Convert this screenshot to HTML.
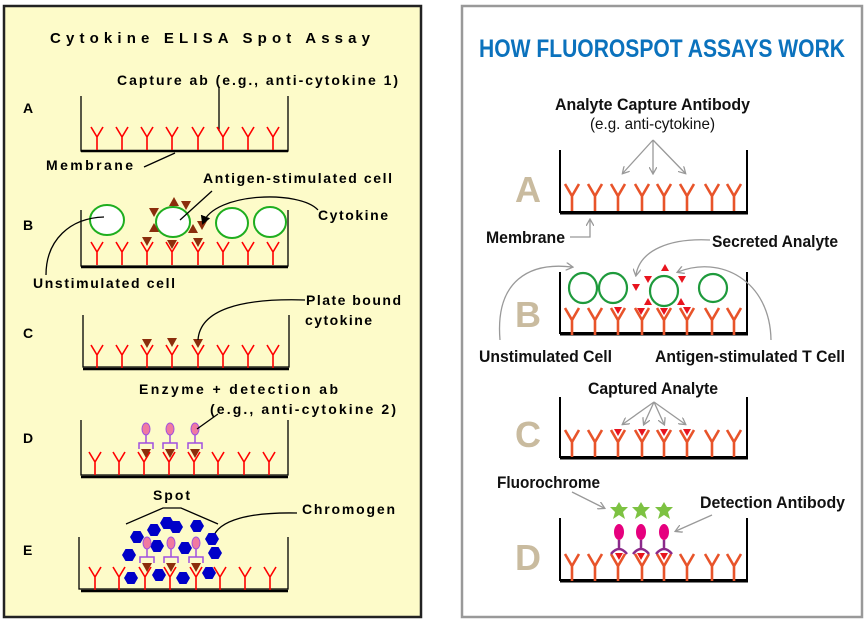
<!DOCTYPE html>
<html><head><meta charset="utf-8"><style>
html,body{margin:0;padding:0;background:#fff;width:865px;height:622px;overflow:hidden}
svg{display:block}
.l{font-family:"Liberation Sans",sans-serif;font-size:14px;fill:#000;font-weight:bold}
.r{font-family:"Liberation Sans",sans-serif;font-size:17px;fill:#111;font-weight:bold}
.big{font-family:"Liberation Sans",sans-serif;font-weight:bold;font-size:36px;fill:#c9bb9f}
</style></head><body>
<svg width="865" height="622" viewBox="0 0 865 622" xmlns="http://www.w3.org/2000/svg">
<defs>
<g id="ly"><path d="M0,23V10M-6,0L0,10L6,0" stroke="#f00" stroke-width="1.6" fill="none"/></g>
<g id="ry"><path d="M0,27V12M-7,0L0,12L7,0" stroke="#e8542a" stroke-width="2.6" fill="none"/></g>
<path id="tri" d="M-5,-4H5L0,5Z" fill="#8b2d0c"/>
<path id="rtri" d="M-4,-3H4L0,4Z" fill="#e8141e"/>
<polygon id="hex" points="-7,0 -3.5,-6 3.5,-6 7,0 3.5,6 -3.5,6" fill="#0000c8"/>
<g id="det"><ellipse cx="0" cy="0" rx="4" ry="6" fill="#f07aa0" stroke="#a050e0" stroke-width="1"/><path d="M0,6V14M-7,20V14H7V20" stroke="#a050e0" stroke-width="1.5" fill="none"/></g>
<g id="rdet"><path d="M-9,-7L-3,-7L0,-12L3,-7L9,-7L4,-2L6,5L0,1L-6,5L-4,-2Z" fill="#7dc242"/><ellipse cx="0" cy="18" rx="5" ry="8" fill="#e6007e"/><path d="M0,26V36M-8,40Q0,30 8,40" stroke="#8b2a8b" stroke-width="2.5" fill="none"/></g>
<marker id="ga" markerWidth="8" markerHeight="8" refX="6" refY="4" orient="auto" markerUnits="userSpaceOnUse"><path d="M0,0L7,4L0,8" fill="none" stroke="#999" stroke-width="1.3"/></marker>
<marker id="ba" markerWidth="10" markerHeight="10" refX="7" refY="5" orient="auto" markerUnits="userSpaceOnUse"><path d="M0,0L9,5L0,10Z" fill="#000"/></marker>
</defs>

<!-- LEFT PANEL -->
<rect x="4" y="6" width="417" height="611" fill="#fdfbc9" stroke="#222" stroke-width="2.5"/>
<text class="l" x="50" y="43" textLength="320" lengthAdjust="spacing" style="font-size:15px">Cytokine ELISA Spot Assay</text>

<text class="l" x="23" y="113">A</text>
<text class="l" x="117" y="85" textLength="281" lengthAdjust="spacing">Capture ab (e.g., anti-cytokine 1)</text>
<path d="M219,88V131" stroke="#000" stroke-width="1.3"/>
<path d="M81,96V151H288V96" stroke="#000" stroke-width="1.3" fill="none"/><path d="M81,151H288" stroke="#000" stroke-width="2.5"/>
<g transform="translate(0,127)"><use href="#ly" x="97"/><use href="#ly" x="122"/><use href="#ly" x="147"/><use href="#ly" x="172"/><use href="#ly" x="198"/><use href="#ly" x="223"/><use href="#ly" x="248"/><use href="#ly" x="273"/></g>
<text class="l" x="46" y="170" textLength="87" lengthAdjust="spacing">Membrane</text>
<path d="M144,167L175,153" stroke="#000" stroke-width="1.3"/>

<text class="l" x="23" y="230">B</text>
<text class="l" x="203" y="183" textLength="189" lengthAdjust="spacing">Antigen-stimulated cell</text>
<path d="M81,210V266H288V210" stroke="#000" stroke-width="1.3" fill="none"/><path d="M81,267H288" stroke="#000" stroke-width="2.5"/>
<g transform="translate(0,242)"><use href="#ly" x="97"/><use href="#ly" x="122"/><use href="#ly" x="147"/><use href="#ly" x="172"/><use href="#ly" x="198"/><use href="#ly" x="223"/><use href="#ly" x="248"/><use href="#ly" x="273"/></g>
<ellipse cx="107" cy="220" rx="17" ry="15" fill="#fff" stroke="#1fae1f" stroke-width="2"/>
<ellipse cx="173" cy="222" rx="17" ry="15" fill="#fff" stroke="#1fae1f" stroke-width="2"/>
<ellipse cx="232" cy="223" rx="16" ry="15" fill="#fff" stroke="#1fae1f" stroke-width="2"/>
<ellipse cx="270" cy="222" rx="16" ry="15" fill="#fff" stroke="#1fae1f" stroke-width="2"/>
<g><use href="#tri" x="154" y="212"/><use href="#tri" x="154" y="228" transform="rotate(180 154 228)"/><use href="#tri" x="174" y="202" transform="rotate(180 174 202)"/><use href="#tri" x="186" y="205"/><use href="#tri" x="193" y="229" transform="rotate(180 193 229)"/><use href="#tri" x="202" y="225"/><use href="#tri" x="147" y="241"/><use href="#tri" x="172" y="244"/><use href="#tri" x="198" y="242"/></g>
<path d="M212,191L180,220" stroke="#000" stroke-width="1.3"/>
<text class="l" x="318" y="220" textLength="70" lengthAdjust="spacing">Cytokine</text>
<path d="M318,210C300,190 215,192 203,223" stroke="#000" stroke-width="1.3" fill="none" marker-end="url(#ba)"/>
<text class="l" x="33" y="288" textLength="142" lengthAdjust="spacing">Unstimulated cell</text>
<path d="M46,275C46,240 70,218 104,217" stroke="#000" stroke-width="1.3" fill="none"/>

<text class="l" x="23" y="338">C</text>
<text class="l" x="306" y="305" textLength="95" lengthAdjust="spacing">Plate bound</text>
<text class="l" x="305" y="325" textLength="67" lengthAdjust="spacing">cytokine</text>
<path d="M83,315V367H289V315" stroke="#000" stroke-width="1.3" fill="none"/><path d="M83,369H289" stroke="#000" stroke-width="2.5"/>
<g transform="translate(0,345)"><use href="#ly" x="97"/><use href="#ly" x="122"/><use href="#ly" x="147"/><use href="#ly" x="172"/><use href="#ly" x="198"/><use href="#ly" x="223"/><use href="#ly" x="248"/><use href="#ly" x="273"/></g>
<use href="#tri" x="147" y="343"/><use href="#tri" x="172" y="342"/><use href="#tri" x="198" y="343"/>
<path d="M305,300C240,298 200,310 198,340" stroke="#000" stroke-width="1.3" fill="none"/>

<text class="l" x="23" y="443">D</text>
<text class="l" x="139" y="394" textLength="199" lengthAdjust="spacing">Enzyme + detection ab</text>
<text class="l" x="210" y="414" textLength="186" lengthAdjust="spacing">(e.g., anti-cytokine 2)</text>
<path d="M81,420V475H288V420" stroke="#000" stroke-width="1.3" fill="none"/><path d="M81,477H288" stroke="#000" stroke-width="2.5"/>
<g transform="translate(0,452)"><use href="#ly" x="95"/><use href="#ly" x="119"/><use href="#ly" x="144"/><use href="#ly" x="169"/><use href="#ly" x="194"/><use href="#ly" x="218"/><use href="#ly" x="244"/><use href="#ly" x="269"/></g>
<use href="#det" x="146" y="429"/><use href="#det" x="170" y="429"/><use href="#det" x="195" y="429"/>
<use href="#tri" x="146" y="453"/><use href="#tri" x="170" y="453"/><use href="#tri" x="195" y="453"/>
<path d="M218,414L197,429" stroke="#000" stroke-width="1.3"/>

<text class="l" x="23" y="555">E</text>
<text class="l" x="153" y="500" textLength="37" lengthAdjust="spacing">Spot</text>
<path d="M126,524L163,508H181L218,524" stroke="#000" stroke-width="1.3" fill="none"/>
<text class="l" x="302" y="514" textLength="93" lengthAdjust="spacing">Chromogen</text>
<path d="M297,513C250,512 218,520 213,538" stroke="#000" stroke-width="1.3" fill="none"/>
<path d="M79,537V589H288V537" stroke="#000" stroke-width="1.3" fill="none"/><path d="M81,591H288" stroke="#000" stroke-width="2.5"/>
<g transform="translate(0,567)"><use href="#ly" x="95"/><use href="#ly" x="119"/><use href="#ly" x="145"/><use href="#ly" x="170"/><use href="#ly" x="196"/><use href="#ly" x="220"/><use href="#ly" x="245"/><use href="#ly" x="270"/></g>
<g><use href="#hex" x="167" y="523"/><use href="#hex" x="154" y="530"/><use href="#hex" x="176" y="527"/><use href="#hex" x="197" y="526"/><use href="#hex" x="137" y="537"/><use href="#hex" x="157" y="546"/><use href="#hex" x="185" y="548"/><use href="#hex" x="212" y="539"/><use href="#hex" x="129" y="555"/><use href="#hex" x="215" y="553"/><use href="#hex" x="131" y="578"/><use href="#hex" x="159" y="575"/><use href="#hex" x="183" y="578"/><use href="#hex" x="209" y="573"/></g>
<use href="#det" x="147" y="543"/><use href="#det" x="171" y="543"/><use href="#det" x="196" y="543"/>
<use href="#tri" x="147" y="567"/><use href="#tri" x="171" y="567"/><use href="#tri" x="196" y="567"/>

<!-- RIGHT PANEL -->
<rect x="462" y="6" width="400" height="611" fill="#fff" stroke="#999" stroke-width="2.5"/>
<text x="479" y="57" textLength="366" lengthAdjust="spacingAndGlyphs" style="font-family:'Liberation Sans',sans-serif;font-weight:bold;font-size:25px;fill:#0b72bd">HOW FLUOROSPOT ASSAYS WORK</text>
<text class="r" x="555" y="110" textLength="195" lengthAdjust="spacingAndGlyphs">Analyte Capture Antibody</text>
<text class="r" x="590" y="129" textLength="125" lengthAdjust="spacingAndGlyphs" style="font-weight:normal;font-size:16px">(e.g. anti-cytokine)</text>
<g stroke="#999" stroke-width="1.3" fill="none"><path d="M653,140L623,173" marker-end="url(#ga)"/><path d="M653,140V173" marker-end="url(#ga)"/><path d="M653,140L685,173" marker-end="url(#ga)"/></g>

<text class="big" x="515" y="202">A</text>
<path d="M560,150V212H747V150" stroke="#000" stroke-width="2" fill="none"/><path d="M560,213H748" stroke="#000" stroke-width="3"/>
<g transform="translate(0,184)"><use href="#ry" x="572"/><use href="#ry" x="595"/><use href="#ry" x="618"/><use href="#ry" x="642"/><use href="#ry" x="664"/><use href="#ry" x="687"/><use href="#ry" x="712"/><use href="#ry" x="734"/></g>
<text class="r" x="486" y="243" textLength="79" lengthAdjust="spacingAndGlyphs">Membrane</text>
<path d="M570,237H590V220" stroke="#999" stroke-width="1.3" fill="none" marker-end="url(#ga)"/>
<text class="r" x="712" y="247" textLength="126" lengthAdjust="spacingAndGlyphs">Secreted Analyte</text>
<path d="M710,240C670,238 640,250 636,275" stroke="#999" stroke-width="1.3" fill="none" marker-end="url(#ga)"/>

<text class="big" x="515" y="327">B</text>
<path d="M560,272V333H747V272" stroke="#000" stroke-width="2" fill="none"/><path d="M560,334H748" stroke="#000" stroke-width="3"/>
<g transform="translate(0,308)"><use href="#ry" x="572"/><use href="#ry" x="595"/><use href="#ry" x="618"/><use href="#ry" x="642"/><use href="#ry" x="664"/><use href="#ry" x="687"/><use href="#ry" x="712"/><use href="#ry" x="734"/></g>
<g fill="none" stroke="#1e9a3c" stroke-width="2.2"><ellipse cx="583" cy="288" rx="14" ry="15"/><ellipse cx="613" cy="288" rx="14" ry="15"/><ellipse cx="664" cy="291" rx="14" ry="15"/><ellipse cx="713" cy="288" rx="14" ry="14"/></g>
<g><use href="#rtri" x="636" y="287"/><use href="#rtri" x="665" y="268" transform="rotate(180 665 268)"/><use href="#rtri" x="648" y="279"/><use href="#rtri" x="682" y="279"/><use href="#rtri" x="648" y="302" transform="rotate(180 648 302)"/><use href="#rtri" x="681" y="302" transform="rotate(180 681 302)"/><use href="#rtri" x="618" y="310"/><use href="#rtri" x="641" y="311"/><use href="#rtri" x="664" y="311"/><use href="#rtri" x="687" y="310"/></g>
<text class="r" x="479" y="362" textLength="133" lengthAdjust="spacingAndGlyphs">Unstimulated Cell</text>
<path d="M500,340C495,280 530,262 572,267" stroke="#999" stroke-width="1.3" fill="none" marker-end="url(#ga)"/>
<text class="r" x="655" y="362" textLength="190" lengthAdjust="spacingAndGlyphs">Antigen-stimulated T Cell</text>
<path d="M771,340C770,280 720,255 678,272" stroke="#999" stroke-width="1.3" fill="none" marker-end="url(#ga)"/>

<text class="r" x="588" y="394" textLength="130" lengthAdjust="spacingAndGlyphs">Captured Analyte</text>
<g stroke="#999" stroke-width="1.3" fill="none"><path d="M654,402L623,424" marker-end="url(#ga)"/><path d="M654,402L644,424" marker-end="url(#ga)"/><path d="M654,402L664,424" marker-end="url(#ga)"/><path d="M654,402L685,424" marker-end="url(#ga)"/></g>
<text class="big" x="515" y="447">C</text>
<path d="M560,397V457H747V397" stroke="#000" stroke-width="2" fill="none"/><path d="M560,458H748" stroke="#000" stroke-width="3"/>
<g transform="translate(0,430)"><use href="#ry" x="572"/><use href="#ry" x="595"/><use href="#ry" x="618"/><use href="#ry" x="642"/><use href="#ry" x="664"/><use href="#ry" x="687"/><use href="#ry" x="712"/><use href="#ry" x="734"/></g>
<use href="#rtri" x="618" y="432"/><use href="#rtri" x="642" y="432"/><use href="#rtri" x="664" y="432"/><use href="#rtri" x="687" y="432"/>

<text class="r" x="497" y="488" textLength="103" lengthAdjust="spacingAndGlyphs">Fluorochrome</text>
<path d="M572,492L604,508" stroke="#999" stroke-width="1.3" fill="none" marker-end="url(#ga)"/>
<text class="r" x="700" y="508" textLength="145" lengthAdjust="spacingAndGlyphs">Detection Antibody</text>
<path d="M712,515L676,531" stroke="#999" stroke-width="1.3" fill="none" marker-end="url(#ga)"/>
<text class="big" x="515" y="570">D</text>
<path d="M560,518V580H747V518" stroke="#000" stroke-width="2" fill="none"/><path d="M560,581H748" stroke="#000" stroke-width="3"/>
<g transform="translate(0,554)"><use href="#ry" x="572"/><use href="#ry" x="595"/><use href="#ry" x="618"/><use href="#ry" x="642"/><use href="#ry" x="664"/><use href="#ry" x="687"/><use href="#ry" x="712"/><use href="#ry" x="734"/></g>
<use href="#rdet" x="619" y="514"/><use href="#rdet" x="641" y="514"/><use href="#rdet" x="664" y="514"/>
<use href="#rtri" x="619" y="556"/><use href="#rtri" x="641" y="556"/><use href="#rtri" x="664" y="556"/>
</svg>
</body></html>
